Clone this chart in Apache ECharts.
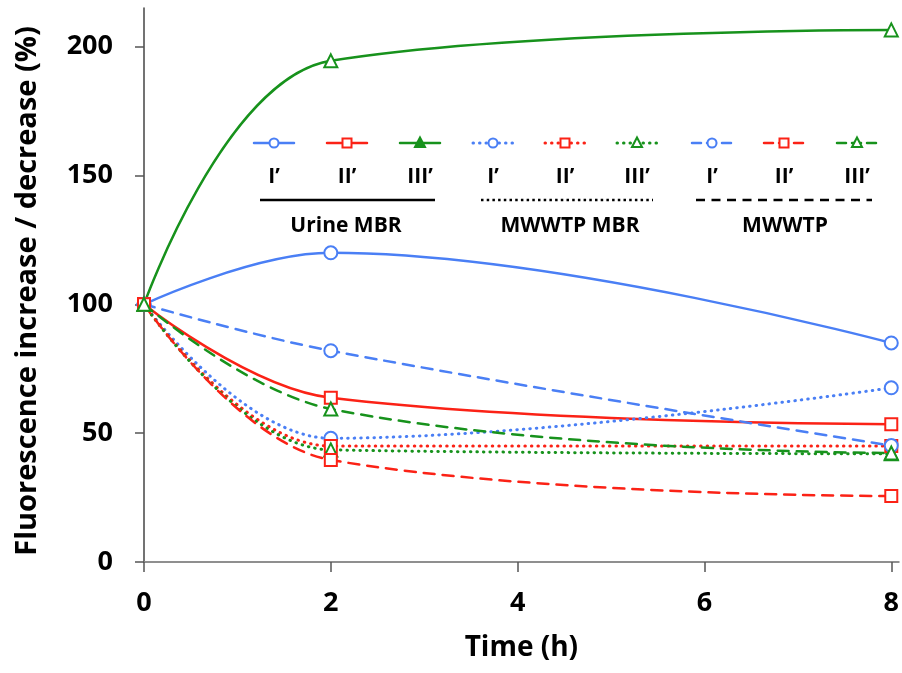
<!DOCTYPE html>
<html>
<head>
<meta charset="utf-8">
<script src="https://cdn.jsdelivr.net/npm/echarts@6/dist/echarts.min.js"></script>
<style>
  html, body { margin: 0; padding: 0; background: #fff; }
  #chart { width: 902px; height: 673px; }
</style>
</head>
<body>
<div id="chart"></div>
<script>
// time points (h)
var times = [0, 2, 8]
var xTicks = [0, 2, 4, 6, 8]
var yTicks = [0, 50, 100, 150, 200]

// Urine MBR
var urineI = [100, 120, 85]
var urineII = [100, 63.7, 53.5]
var urineIII = [100, 194.5, 206.5]
// MWWTP MBR
var mbrI = [100, 48, 67.6]
var mbrII = [100, 45, 45]
var mbrIII = [100, 43.5, 42]
// MWWTP
var wwtpI = [100, 82, 45.2]
var wwtpII = [100, 39.6, 25.6]
var wwtpIII = [100, 59.4, 42.3]

var labels = ['I\u2019', 'II\u2019', 'III\u2019']
var groups = ['Urine MBR', 'MWWTP MBR', 'MWWTP']

var BLUE = '#4a7ff5'
var RED = '#fb2216'
var GREEN = '#17921c'
var FONT = '"Open Sans"'

function pts (arr) {
  return arr.map(function (v, i) { return [times[i], v] })
}

var dotted = [0.5, 6]
var dashed = [11, 8]

function mk (name, data, color, sym, dash) {
  return {
    name: name,
    type: 'line',
    smooth: 0.4,
    data: pts(data),
    symbol: sym,
    symbolSize: sym === 'emptyRect' ? 12 : 13,
    lineStyle: { color: color, width: dash === dotted ? 3 : 2.5, type: dash, cap: 'round' },
    itemStyle: { color: color, borderWidth: 2 },
    z: 3
  }
}

var series = [
  mk('Urine MBR I\u2019', urineI, BLUE, 'emptyCircle', 'solid'),
  mk('Urine MBR II\u2019', urineII, RED, 'emptyRect', 'solid'),
  mk('Urine MBR III\u2019', urineIII, GREEN, 'emptyTriangle', 'solid'),
  mk('MWWTP MBR I\u2019', mbrI, BLUE, 'emptyCircle', dotted),
  mk('MWWTP MBR II\u2019', mbrII, RED, 'emptyRect', dotted),
  mk('MWWTP MBR III\u2019', mbrIII, GREEN, 'emptyTriangle', dotted),
  mk('MWWTP I\u2019', wwtpI, BLUE, 'emptyCircle', dashed),
  mk('MWWTP II\u2019', wwtpII, RED, 'emptyRect', dashed),
  mk('MWWTP III\u2019', wwtpIII, GREEN, 'emptyTriangle', dashed)
]

// legend drawn as graphics
var legendX = [274, 347, 420, 493, 565, 637, 712, 784, 857]
var legendColors = [BLUE, RED, GREEN]
var legendSym = ['circle', 'rect', 'tri']
var graphics = []
legendX.forEach(function (cx, i) {
  var g = Math.floor(i / 3)
  var k = i % 3
  var col = legendColors[k]
  var ly = 143
  graphics.push({
    type: 'line',
    shape: { x1: cx - 20, y1: ly, x2: cx + 20, y2: ly },
    style: { stroke: col, lineWidth: g === 1 ? 3 : 2.5, lineDash: g === 0 ? null : (g === 1 ? [0.5, 6] : [9, 6]), lineCap: 'round' }
  })
  var symStyle = { stroke: col, lineWidth: 2, fill: g === 0 && k === 2 ? col : '#fff' }
  if (legendSym[k] === 'circle') {
    graphics.push({ type: 'circle', shape: { cx: cx, cy: ly, r: 4.5 }, style: symStyle })
  } else if (legendSym[k] === 'rect') {
    graphics.push({ type: 'rect', shape: { x: cx - 4.5, y: ly - 4.5, width: 9, height: 9 }, style: symStyle })
  } else {
    graphics.push({ type: 'polygon', shape: { points: [[cx, ly - 5.5], [cx + 5, ly + 4], [cx - 5, ly + 4]] }, style: symStyle })
  }
  graphics.push({
    type: 'text',
    x: cx, y: 177,
    style: { text: labels[k], font: 'bold 21px ' + FONT, fill: '#000', textAlign: 'center', textVerticalAlign: 'middle' }
  })
})
var groupLines = [[260, 435], [481, 653], [696, 872]]
var groupCenters = [346, 570, 785]
groupLines.forEach(function (seg, g) {
  graphics.push({
    type: 'line',
    shape: { x1: seg[0], y1: 200, x2: seg[1], y2: 200 },
    style: { stroke: '#000', lineWidth: 2.5, lineDash: g === 0 ? null : (g === 1 ? [2.5, 3.2] : [9, 6.5]) }
  })
  graphics.push({
    type: 'text',
    x: groupCenters[g], y: 226,
    style: { text: groups[g], font: 'bold 21px ' + FONT, fill: '#000', textAlign: 'center', textVerticalAlign: 'middle' }
  })
})

var chart = echarts.init(document.getElementById('chart'))
chart.setOption({
  animation: false,
  backgroundColor: '#fff',
  grid: { left: 144, top: 8, right: 0.5, bottom: 111 },
  xAxis: [{
    type: 'value',
    min: 0,
    max: 8.08,
    interval: 2,
    name: 'Time (h)',
    nameLocation: 'middle',
    nameGap: 72,
    nameTextStyle: { fontFamily: FONT, fontWeight: 'bold', fontSize: 28, color: '#000' },
    axisLine: { show: true, onZero: false, lineStyle: { color: '#444', width: 1.5 } },
    axisTick: { show: true, length: 10, customValues: xTicks, lineStyle: { color: '#555', width: 1.5 } },
    axisLabel: { customValues: xTicks, margin: 28, fontFamily: FONT, fontWeight: 'bold', fontSize: 27, color: '#000' },
    splitLine: { show: false }
  }, {
    type: 'value',
    position: 'top',
    min: 0,
    max: 8.08,
    axisLine: { show: true, lineStyle: { color: '#999', width: 1.5 } },
    axisTick: { show: false },
    axisLabel: { show: false },
    splitLine: { show: false }
  }],
  yAxis: {
    type: 'value',
    min: 0,
    max: 215,
    interval: 50,
    name: 'Fluorescence increase / decrease (%)',
    nameLocation: 'middle',
    nameGap: 102,
    nameTextStyle: { fontFamily: FONT, fontWeight: 'bold', fontSize: 29, color: '#000', padding: [0, 12, 0, 0] },
    axisLine: { show: true, lineStyle: { color: '#444', width: 1.5 } },
    axisTick: { show: true, length: 9, customValues: yTicks, lineStyle: { color: '#555', width: 1.5 } },
    axisLabel: { customValues: yTicks, margin: 31, fontFamily: FONT, fontWeight: 'bold', fontSize: 27, color: '#000' },
    splitLine: { show: false }
  },
  series: series,
  graphic: graphics
})
</script>
</body>
</html>
